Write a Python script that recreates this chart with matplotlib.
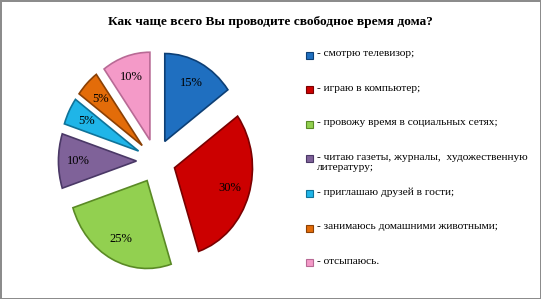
#!/usr/bin/env python3

import matplotlib
matplotlib.use('Agg')
import matplotlib.pyplot as plt
from matplotlib.patches import Rectangle


title = 'Как чаще всего Вы проводите свободное время дома?'
labels = ['- смотрю телевизор;',
          '- играю в компьютер;',
          '- провожу время в социальных сетях;',
          '- читаю газеты, журналы,  художественную\nлитературу;',
          '- приглашаю друзей в гости;',
          '- занимаюсь домашними животными;',
          '- отсыпаюсь.']
values = [15, 30, 25, 10, 5, 5, 10]
colors = ['#1f6fc0', '#cc0000', '#92d050', '#7f6299', '#1fb5e8', '#e36c09', '#f49ac8']
edges = ['#0d3f75', '#7a0000', '#5a8a25', '#4a3866', '#0f7399', '#8a4005', '#b86a95']


def main():
  plt.rcParams['font.family'] = ['Liberation Serif', 'DejaVu Serif']

  fig = plt.figure(figsize=(5.41, 2.99), dpi=100)
  fig.patch.set_edgecolor('#8c8c8c')
  fig.patch.set_linewidth(2)

  fig.text(0.5, 0.925, title, ha='center', va='center', fontsize=9.6, fontweight='bold')

  ax = fig.add_axes([0.072, 0.050, 0.4325, 0.823])
  wedges, texts, autotexts = ax.pie(values, colors=colors, startangle=90, counterclock=False,
                                    explode=[0.25]*len(values), autopct='%d%%', pctdistance=0.75,
                                    wedgeprops=dict(linewidth=1.2),
                                    textprops=dict(fontsize=9))
  for w, ec in zip(wedges, edges):
    w.set_edgecolor(ec)
  ax.set_aspect('auto')
  ax.set_xlim(-1.5, 1.5)
  ax.set_ylim(-1.4, 1.4)
  ax.axis('off')

  # legend, drawn by hand to keep the even row pitch of the original
  top = 1 - 55/299
  pitch = 34.6/299
  for i, (lab, c, ec) in enumerate(zip(labels, colors, edges)):
    y = top - i*pitch
    fig.patches.append(Rectangle((306/541, y - 3.5/299), 7/541, 7/299,
                                 facecolor=c, edgecolor=ec, lw=0.8,
                                 transform=fig.transFigure, figure=fig))
    fig.text(317/541, y + 6/299, lab, ha='left', va='top', fontsize=8.2, linespacing=1.1)

  fig.savefig('out.png', dpi=100)


if __name__ == '__main__':
  main()
